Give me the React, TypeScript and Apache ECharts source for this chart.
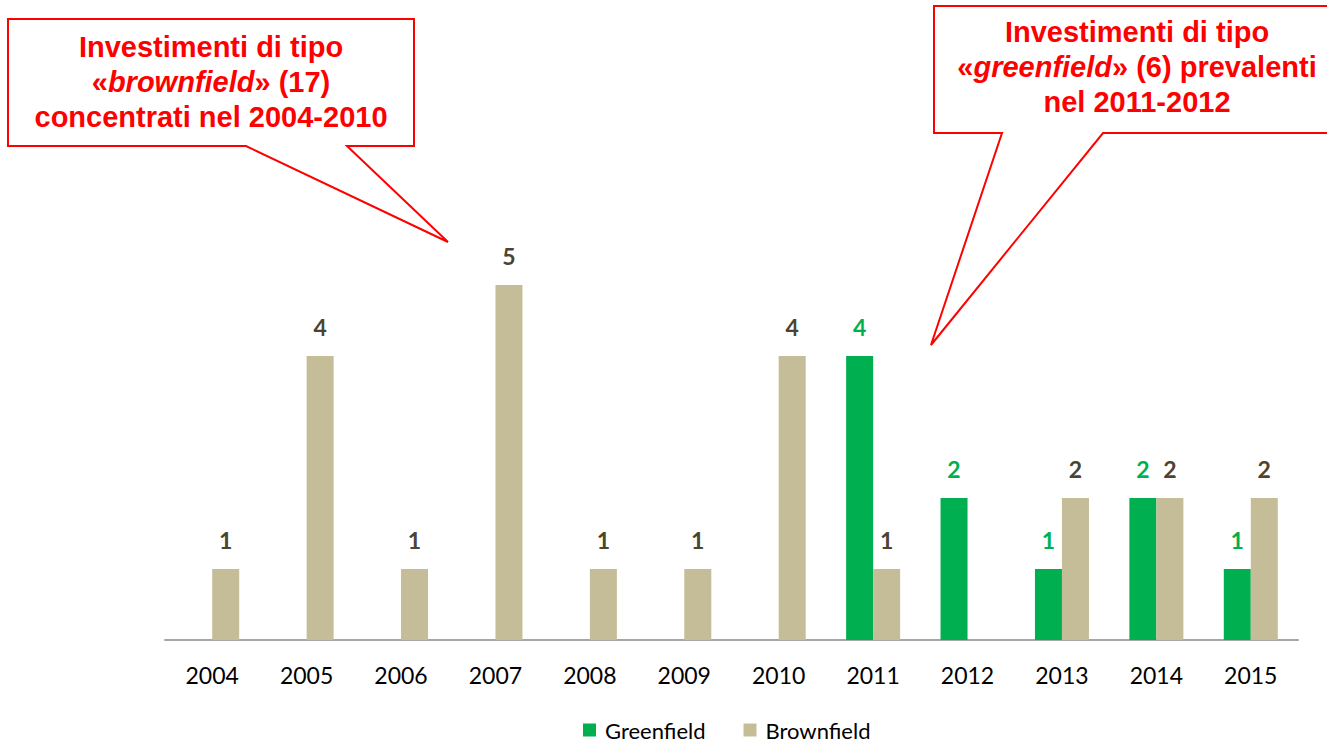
import React, { useEffect, useRef } from "react";
import * as echarts from "echarts";

// Investment counts per year by type
const years = ["2004", "2005", "2006", "2007", "2008", "2009", "2010", "2011", "2012", "2013", "2014", "2015"];
const greenfield: (number | null)[] = [null, null, null, null, null, null, null, 4, 2, 1, 2, 1];
const brownfield: (number | null)[] = [1, 4, 1, 5, 1, 1, 4, 1, null, 2, 2, 2];

const seriesNames = ["Greenfield", "Brownfield"];

const calloutLeftText = "Investimenti di tipo\n«{i|brownfield}» (17)\nconcentrati nel 2004-2010";
const calloutRightText = "Investimenti di tipo\n«{i|greenfield}» (6) prevalenti\nnel 2011-2012";

const GREEN = "#00b050";
const BROWN = "#c4bd97";
const BROWN_LABEL = "#4a4431";
const RED = "#ff0000";
const UI_FONT = "Lato, 'Open Sans', sans-serif";
const CALLOUT_FONT = "'Liberation Sans', Arial, sans-serif";

function calloutText(text: string, x: number, y: number) {
  const base = {
    fontFamily: CALLOUT_FONT,
    fontSize: 29,
    fontWeight: "bold" as const,
    lineHeight: 35,
    fill: RED,
  };
  return {
    type: "text",
    x,
    y,
    z: 11,
    style: {
      ...base,
      text,
      align: "center",
      verticalAlign: "middle",
      rich: {
        i: { ...base, fontStyle: "italic" },
      },
    },
  };
}

export default function App() {
  const ref = useRef<HTMLDivElement>(null);

  useEffect(() => {
    if (!ref.current) return;
    const chart = echarts.init(ref.current, null, { renderer: "svg" });

    const barLabel = (color: string) => ({
      show: true,
      position: "top" as const,
      distance: 18,
      color,
      fontFamily: UI_FONT,
      fontSize: 23,
      fontWeight: "bold" as const,
    });

    chart.setOption({
      animation: false,
      backgroundColor: "#ffffff",
      grid: { left: 165, right: 29, top: 285, bottom: 103 },
      legend: {
        left: 583,
        top: 719,
        padding: 0,
        itemWidth: 13,
        itemHeight: 13,
        itemGap: 38,
        icon: "rect",
        data: seriesNames,
        textStyle: {
          fontFamily: UI_FONT,
          fontSize: 22,
          lineHeight: 22,
          color: "#000000",
          padding: [0, 0, 0, 4],
        },
      },
      xAxis: {
        type: "category",
        data: years,
        axisTick: { show: false },
        axisLine: { lineStyle: { color: "#a6a6a6", width: 2 } },
        axisLabel: {
          color: "#000000",
          fontFamily: UI_FONT,
          fontSize: 23,
          margin: 23,
        },
      },
      yAxis: {
        type: "value",
        min: 0,
        max: 5,
        show: false,
        splitLine: { show: false },
      },
      series: [
        {
          name: seriesNames[0],
          type: "bar",
          data: greenfield,
          barWidth: 27,
          barGap: "0%",
          itemStyle: { color: GREEN },
          label: barLabel(GREEN),
        },
        {
          name: seriesNames[1],
          type: "bar",
          data: brownfield,
          barWidth: 27,
          barGap: "0%",
          itemStyle: { color: BROWN },
          label: barLabel(BROWN_LABEL),
        },
      ],
      graphic: [
        {
          type: "polygon",
          z: 10,
          shape: {
            points: [
              [8, 19], [414, 19], [414, 146], [347, 146], [448, 242], [246, 146], [8, 146],
            ],
          },
          style: { fill: "#ffffff", stroke: RED, lineWidth: 2 },
        },
        calloutText(calloutLeftText, 211, 82),
        {
          type: "polygon",
          z: 10,
          shape: {
            points: [
              [934, 6], [1340, 6], [1340, 133], [1103, 133], [931, 345], [1002, 133], [934, 133],
            ],
          },
          style: { fill: "#ffffff", stroke: RED, lineWidth: 2 },
        },
        calloutText(calloutRightText, 1137, 67),
      ],
    });

    return () => chart.dispose();
  }, []);

  return (
    <div
      ref={ref}
      style={{ position: "absolute", left: 0, top: 0, width: 1327, height: 743 }}
    />
  );
}
